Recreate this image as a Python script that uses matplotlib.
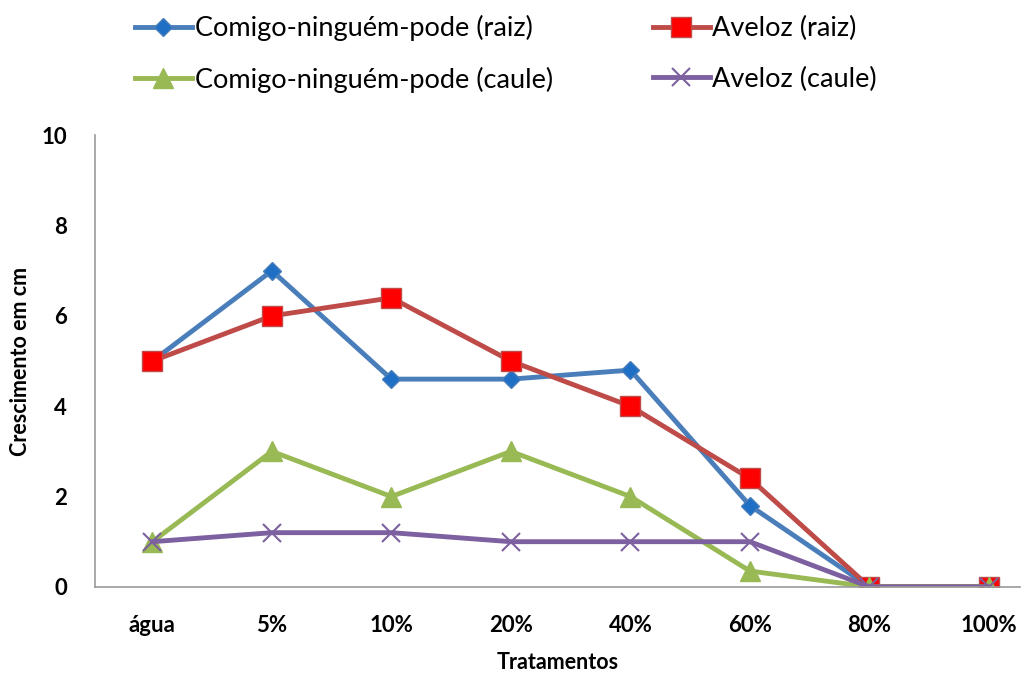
import matplotlib.pyplot as plt

plt.rcParams['font.family'] = ['Lato', 'DejaVu Sans']

tratamentos = ['água', '5%', '10%', '20%', '40%', '60%', '80%', '100%']
comigo_raiz = [5, 7, 4.6, 4.6, 4.8, 1.8, 0, 0]
aveloz_raiz = [5, 6, 6.4, 5, 4, 2.4, 0, 0]
comigo_caule = [1, 3, 2, 3, 2, 0.35, 0, 0]
aveloz_caule = [1, 1.2, 1.2, 1, 1, 1, 0, 0]

fig = plt.figure(figsize=(10.22, 6.73), dpi=100)
ax = fig.add_axes([0.093, 0.128, 0.905, 0.671])
x = range(len(tratamentos))

l1, = ax.plot(x, comigo_raiz, color='#4A7EBB', lw=3.5, marker='D', ms=9,
              mfc='#1F6FC5', mec='#4A7EBB', label='Comigo-ninguém-pode (raiz)')
l2, = ax.plot(x, aveloz_raiz, color='#BE4B48', lw=3.5, marker='s', ms=14,
              mfc='#FF0000', mec='#BE4B48', label='Aveloz (raiz)')
l3, = ax.plot(x, comigo_caule, color='#98B954', lw=3.5, marker='^', ms=14,
              mfc='#98B954', mec='#98B954', label='Comigo-ninguém-pode (caule)')
l4, = ax.plot(x, aveloz_caule, color='#7D60A0', lw=3.5, marker='x', ms=13,
              mew=1.5, label='Aveloz (caule)')

ax.set_xlim(-0.48, 7.26)
ax.set_ylim(0, 10)
ax.set_yticks([0, 2, 4, 6, 8, 10])
ax.set_xticks(list(x))
ax.set_xticklabels(tratamentos)
ax.tick_params(length=0, labelsize=16)
ax.tick_params(axis='x', pad=20)
ax.tick_params(axis='y', pad=20)
for lbl in ax.get_xticklabels() + ax.get_yticklabels():
    lbl.set_fontweight('bold')

for s in ['top', 'right']:
    ax.spines[s].set_visible(False)
for s in ['left', 'bottom']:
    ax.spines[s].set_color('#999999')
    ax.spines[s].set_linewidth(1.2)

ax.set_xlabel('Tratamentos', fontsize=15.5, fontweight='bold', labelpad=12)
ax.set_ylabel('Crescimento em cm', fontsize=15.5, fontweight='bold', labelpad=8)

fig.legend([l1, l3, l2, l4], [l.get_label() for l in [l1, l3, l2, l4]],
           loc='upper left', bbox_to_anchor=(135 / 1022, 1 - 15 / 673), ncol=2,
           frameon=False, fontsize=19.5, columnspacing=3.7, handlelength=2.1,
           handletextpad=0.1, labelspacing=0.95, borderaxespad=0, borderpad=0)

fig.savefig('out.png', dpi=100)
